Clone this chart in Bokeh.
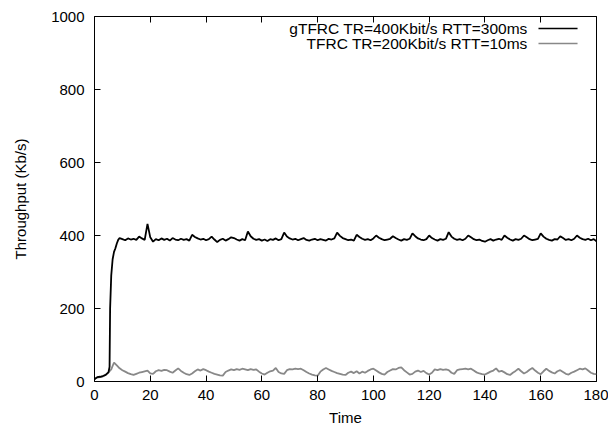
from bokeh.plotting import figure
from bokeh.models import (ColumnDataSource, LinearAxis, Range1d, FixedTicker,
                          Label, Arrow, CustomJSTickFormatter)
from bokeh.embed import file_html
from bokeh.resources import INLINE

# ---------------- data ----------------
x_ticks = [0, 20, 40, 60, 80, 100, 120, 140, 160, 180]
y_ticks = [0, 200, 400, 600, 800, 1000]

series_names = ["gTFRC TR=400Kbit/s RTT=300ms", "TFRC TR=200Kbit/s RTT=10ms"]

gtfrc_time = [0, 1, 2, 3, 4, 5, 5.4, 5.6, 6.0, 6.5, 7.0, 7.5, 8.0, 8.5, 9] + list(range(10, 181))
gtfrc_rate = [
    6, 12, 13, 15, 18, 25, 40, 200, 290, 335, 355, 365, 378, 388, 393,
    390, 387, 392, 389, 391, 388, 397, 392, 388, 432,
    395, 383, 390, 387, 392, 388, 391, 386, 393, 389,
    387, 391, 388, 390, 386, 402, 396, 392, 389, 391,
    387, 390, 397, 389, 382, 388, 391, 386, 390, 395,
    393, 389, 386, 390, 387, 411, 398, 391, 388, 390,
    386, 389, 385, 390, 388, 392, 387, 390, 408, 397,
    392, 389, 391, 387, 390, 393, 388, 386, 389, 391,
    387, 390, 388, 386, 391, 389, 392, 408, 399, 393,
    390, 387, 389, 386, 402, 396, 391, 388, 390, 387,
    392, 400, 394, 390, 387, 389, 391, 398, 393, 389,
    386, 390, 388, 391, 406, 398, 392, 389, 387, 390,
    400, 393, 389, 386, 390, 388, 391, 409, 397, 391,
    388, 390, 387, 391, 400, 395, 390, 387, 389, 385,
    383, 387, 390, 386, 389, 391, 388, 400, 394, 389,
    386, 390, 388, 391, 400, 395, 390, 387, 389, 391,
    406, 397, 391, 388, 386, 390, 389, 398, 393, 388,
    390, 387, 391, 400, 394, 390, 388, 391, 387, 390,
    384,
]

tfrc_time = list(range(0, 181))
tfrc_rate = [
    8, 11, 12, 14, 18, 25, 33, 52, 44, 36,
    31, 27, 23, 20, 18, 21, 24, 26, 28, 30,
    22, 21, 28, 31, 29, 32, 31, 27, 24, 30,
    36, 29, 24, 20, 18, 22, 28, 33, 30, 34,
    31, 27, 24, 21, 19, 17, 16, 26, 30, 33,
    31, 34, 32, 35, 33, 31, 34, 32, 33, 27,
    22, 19, 24, 28, 30, 37, 26, 22, 21, 31,
    34, 33, 35, 34, 35, 31, 26, 22, 19, 17,
    16, 27, 33, 37, 33, 29, 26, 23, 21, 19,
    18, 24, 27, 23, 28, 22, 27, 24, 29, 33,
    35, 30, 25, 21, 19, 26, 30, 34, 33, 37,
    39, 31, 25, 19, 21, 27, 30, 26, 29, 23,
    19, 24, 33, 31, 34, 32, 33, 31, 24, 21,
    31, 33, 34, 35, 33, 35, 30, 25, 22, 20,
    19, 23, 27, 30, 36, 27, 29, 25, 20, 18,
    24, 29, 35, 28, 22, 26, 32, 37, 30, 24,
    20, 28, 35, 29, 25, 22, 28, 31, 26, 21,
    19, 24, 27, 31, 35, 33, 36, 30, 24, 21,
    20,
]

# ---------------- figure ----------------
FONT = "Liberation Sans"
FS = "15px"
KEY_FS = "15.5px"

p = figure(width=608, height=428, output_backend="svg", toolbar_location=None,
           x_range=Range1d(0, 180), y_range=Range1d(0, 1000),
           min_border_left=94, min_border_right=12, min_border_top=16,
           min_border_bottom=46)
p.xgrid.visible = False
p.ygrid.visible = False
p.outline_line_color = "black"
p.outline_line_width = 1
p.background_fill_color = "white"
p.border_fill_color = "white"

def style_axis(ax):
    ax.axis_line_color = None
    ax.major_tick_in = 6
    ax.major_tick_out = 0
    ax.minor_tick_line_color = None
    ax.major_tick_line_color = "black"
    ax.major_label_text_font = FONT
    ax.major_label_text_color = "black"
    ax.major_label_text_font_size = FS

xa = p.xaxis[0]
ya = p.yaxis[0]
xa.ticker = FixedTicker(ticks=x_ticks)
ya.ticker = FixedTicker(ticks=y_ticks)
style_axis(xa)
style_axis(ya)
xa.major_label_standoff = 8
ya.major_label_standoff = 10
xa.axis_label = "Time"
ya.axis_label = "Throughput (Kb/s)"
for ax in (xa, ya):
    ax.axis_label_text_font = FONT
    ax.axis_label_text_font_size = FS
    ax.axis_label_text_font_style = "normal"
    ax.axis_label_text_color = "black"
xa.axis_label_standoff = 6
ya.axis_label_standoff = 19

# mirrored inward ticks on top and right, without labels
blank = CustomJSTickFormatter(code="return '';")
top = LinearAxis(ticker=FixedTicker(ticks=x_ticks), formatter=blank)
right = LinearAxis(ticker=FixedTicker(ticks=y_ticks), formatter=blank)
for ax in (top, right):
    style_axis(ax)
    ax.major_label_standoff = 0
p.add_layout(top, "above")
p.add_layout(right, "right")

src_g = ColumnDataSource(dict(t=gtfrc_time, v=gtfrc_rate))
src_t = ColumnDataSource(dict(t=tfrc_time, v=tfrc_rate))
colors = ["black", "#888888"]
p.line("t", "v", source=src_t, line_color=colors[1], line_width=1.8)
p.line("t", "v", source=src_g, line_color=colors[0], line_width=1.8)

# gnuplot-style key: text right-aligned, sample line on the right
key_text_x = 155.3
key_line_x0, key_line_x1 = 159.2, 173.2
key_rows = [967, 926]
for name, col, yk in zip(series_names, colors, key_rows):
    p.add_layout(Label(x=key_text_x, y=yk, text=name, text_align="right",
                       text_baseline="middle", text_font=FONT,
                       text_font_size=KEY_FS, text_color="black"))
    p.add_layout(Arrow(x_start=key_line_x0, y_start=yk, x_end=key_line_x1,
                       y_end=yk, end=None, line_color=col, line_width=1.5))

open("out.html", "w").write(file_html(p, INLINE))
